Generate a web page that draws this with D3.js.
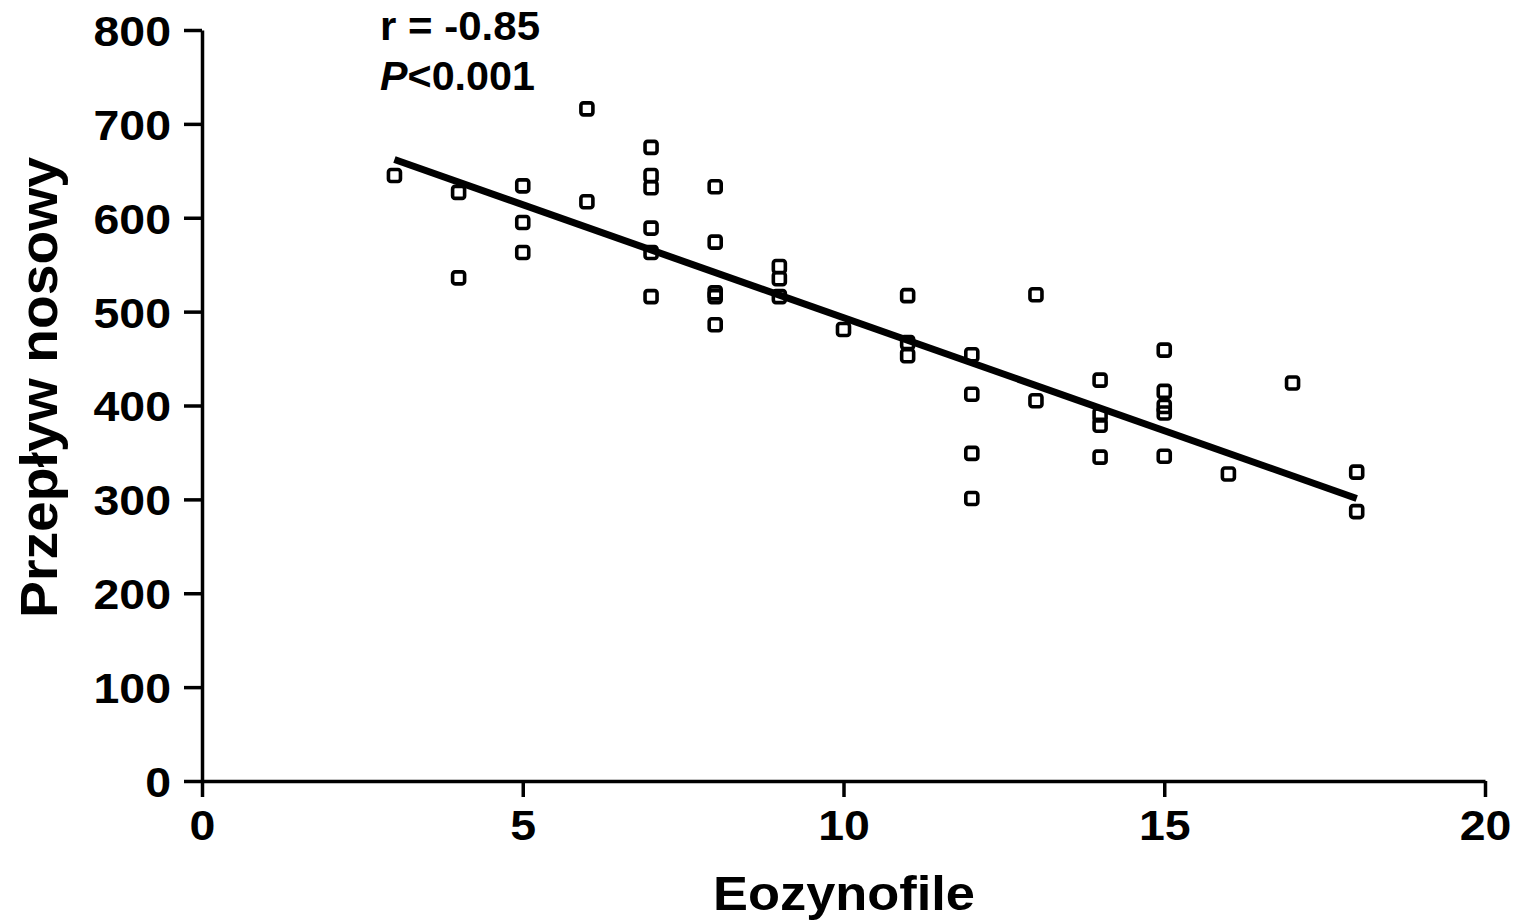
<!DOCTYPE html>
<html>
<head>
<meta charset="utf-8">
<script src="https://cdn.jsdelivr.net/npm/d3@7"></script>
<style>
  html, body { margin: 0; padding: 0; background: #fff; }
  svg { display: block; }
  text { font-family: "Liberation Sans", Arial, sans-serif; font-weight: bold; fill: #000; }
</style>
</head>
<body>
<svg id="chart" width="1517" height="922"></svg>
<script>
// Data
const eosinophils = [3, 4, 4, 5, 5, 5, 6, 6,
  7, 7, 7, 7, 7, 7,
  8, 8, 8, 8, 8,
  9, 9, 9,
  10,
  11, 11, 11,
  12, 12, 12, 12,
  13, 13,
  14, 14, 14, 14,
  15, 15, 15, 15, 15,
  16, 17, 18, 18];
const nasalFlow = [645, 627, 536, 634, 595, 563, 716, 617,
  675, 645, 632, 589, 563, 516,
  633, 574, 520, 516, 486,
  548, 535, 516,
  481,
  517, 467, 453,
  454, 412, 349, 301,
  518, 405,
  427, 390, 379, 345,
  459, 415, 399, 392, 346,
  327, 424, 329, 287];
const fitX = [3, 18];
const fitY = [662, 301];
const xTicks = [0, 5, 10, 15, 20];
const yTicks = [0, 100, 200, 300, 400, 500, 600, 700, 800];
const annotR = "r = -0.85";
const annotP = ["P", "<0.001"];
const xTitle = "Eozynofile";
const yTitle = "Przepływ nosowy";

const svg = d3.select("#chart");
const x = d3.scaleLinear().domain([0, 20]).range([202, 1485]);
const y = d3.scaleLinear().domain([0, 800]).range([781, 30]);

const FONT = '"Liberation Sans", Arial, sans-serif';

// Axes
const xAxis = d3.axisBottom(x).tickValues(xTicks).tickSize(16).tickPadding(12).tickSizeOuter(0);
const yAxis = d3.axisLeft(y).tickValues(yTicks).tickSize(18).tickPadding(13).tickSizeOuter(0);

const gx = svg.append("g").attr("transform", `translate(0,${y(0)})`).call(xAxis);
const gy = svg.append("g").attr("transform", `translate(${x(0)},0)`).call(yAxis);
[gx, gy].forEach(g => {
  g.select(".domain").attr("stroke", "#000").attr("stroke-width", 3.5);
  g.selectAll(".tick line").attr("stroke", "#000").attr("stroke-width", 3.5);
  g.selectAll(".tick text").style("font-size", "43px").style("font-weight", "bold")
    .style("font-family", FONT).attr("fill", "#000");
});
gy.selectAll(".tick text").attr("dy", "0.36em").attr("transform", "scale(1.08,1)")
  .attr("x", -31 / 1.08);
gx.selectAll(".tick text").attr("dy", "0.72em").attr("transform", "scale(1.08,1)");

// Regression line
svg.append("line")
  .attr("x1", x(fitX[0])).attr("y1", y(fitY[0]))
  .attr("x2", x(fitX[1])).attr("y2", y(fitY[1]))
  .attr("stroke", "#000").attr("stroke-width", 7);

// Points
svg.append("g").selectAll("rect")
  .data(eosinophils.map((d, i) => [d, nasalFlow[i]]))
  .join("rect")
  .attr("x", d => x(d[0]) - 6)
  .attr("y", d => y(d[1]) - 6)
  .attr("width", 12).attr("height", 12)
  .attr("rx", 2.5)
  .attr("fill", "none").attr("stroke", "#000").attr("stroke-width", 3.6);

// Annotation
svg.append("text").attr("x", 380).attr("y", 40).style("font-size", "41px")
  .attr("textLength", 160).attr("lengthAdjust", "spacingAndGlyphs").text(annotR);
const tP = svg.append("text").attr("x", 380).attr("y", 90).style("font-size", "41px")
  .attr("textLength", 155).attr("lengthAdjust", "spacingAndGlyphs");
tP.append("tspan").style("font-style", "italic").text(annotP[0]);
tP.append("tspan").text(annotP[1]);

// Axis titles
svg.append("text").attr("x", 844).attr("y", 910).attr("text-anchor", "middle")
  .style("font-size", "49px").attr("textLength", 262).attr("lengthAdjust", "spacingAndGlyphs")
  .text(xTitle);
svg.append("text").attr("transform", `translate(57,${(157 + 618) / 2}) rotate(-90)`)
  .attr("text-anchor", "middle").style("font-size", "51px")
  .attr("textLength", 461).attr("lengthAdjust", "spacingAndGlyphs").text(yTitle);
</script>
</body>
</html>
